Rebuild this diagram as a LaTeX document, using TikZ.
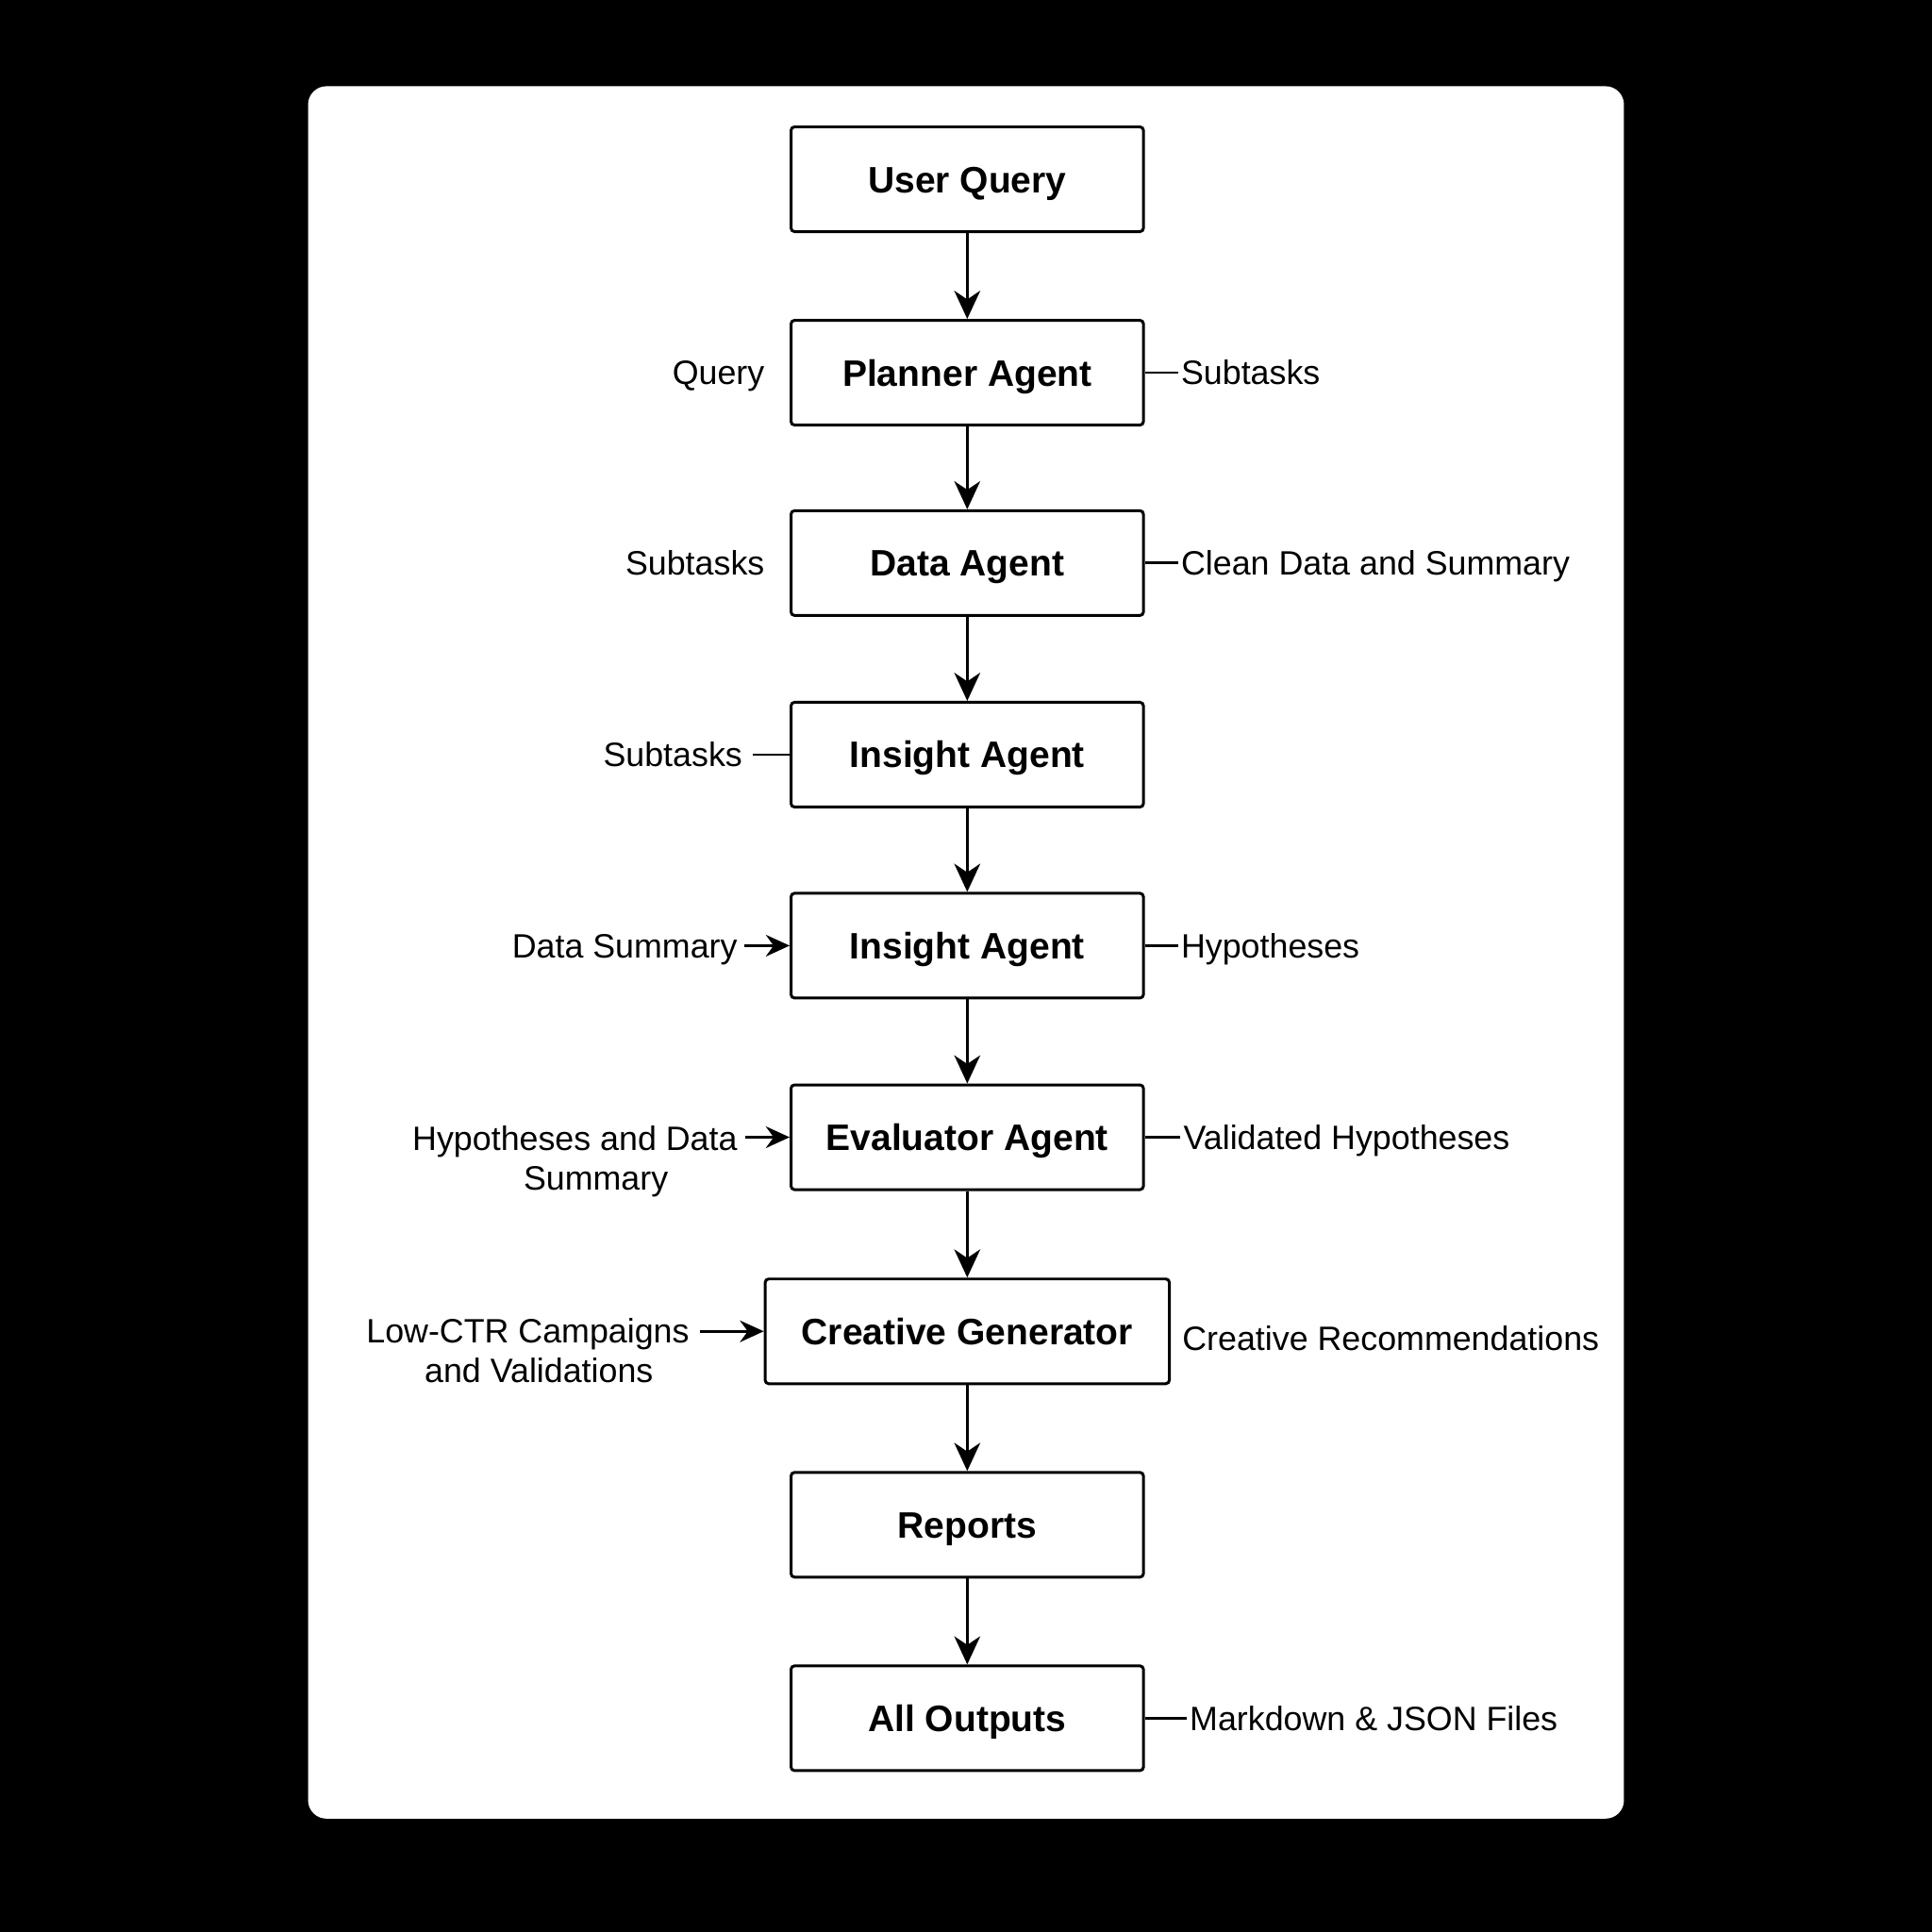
\documentclass[tikz,border=0pt]{standalone}
\usepackage{fontspec}
\setmainfont{Liberation Sans}
\usetikzlibrary{arrows.meta,positioning,calc}

\begin{document}
\begin{tikzpicture}[
    agent/.style={draw, line width=0.65pt, rounded corners=0.8pt, minimum width=2.86cm, minimum height=0.85cm, inner sep=0pt, text height=6.1pt, text depth=0pt, font=\fontsize{8.5}{10}\selectfont\bfseries},
    side/.style={inner sep=0.5pt, text height=5.6pt, text depth=0pt, font=\fontsize{7.8}{9.1}\selectfont},
    multi/.style={inner sep=0.5pt, align=center, font=\fontsize{7.8}{9.1}\selectfont},
    flow/.style={line width=0.6pt, -{Stealth[length=6.5pt, width=6pt, inset=2pt]}},
    feed/.style={line width=0.6pt, -{Stealth[length=5.5pt, width=5pt, inset=1.8pt]}},
    tie/.style={line width=0.6pt}
]

    % Background
    \useasboundingbox (0,0) rectangle (15.68,15.68);
    \fill[black] (0,0) rectangle (15.68,15.68);
    \fill[white, rounded corners=0.15cm] (2.50,0.92) rectangle (13.18,14.98);

    % Agents
    \node[agent] (query) at (7.85,14.225) {User Query};
    \node[agent] (planner) at (7.85,12.655) {Planner Agent};
    \node[agent] (data) at (7.85,11.11) {Data Agent};
    \node[agent] (insightA) at (7.85,9.555) {Insight Agent};
    \node[agent] (insightB) at (7.85,8.005) {Insight Agent};
    \node[agent] (evaluator) at (7.85,6.45) {Evaluator Agent};
    \node[agent, minimum width=3.28cm] (creative) at (7.85,4.875) {Creative Generator};
    \node[agent] (reports) at (7.85,3.305) {Reports};
    \node[agent] (outputs) at (7.85,1.735) {All Outputs};

    % Main flow
    \foreach \a/\b in {query/planner, planner/data, data/insightA, insightA/insightB,
                       insightB/evaluator, evaluator/creative, creative/reports, reports/outputs}
        \draw[flow] (\a) -- (\b);

    % Inputs (left)
    \node[side, left=0.18cm of planner] (planIn) {Query};
    \node[side, left=0.18cm of data] (dataIn) {Subtasks};

    \node[side, left=0.36cm of insightA] (insIn) {Subtasks};
    \draw[tie, shorten <=0.06cm] (insIn) -- (insightA);

    \node[side, left=0.40cm of insightB] (sumIn) {Data Summary};
    \draw[feed, shorten <=0.03cm] (sumIn) -- (insightB);

    \node[multi, anchor=north east] (evalIn) at ($(evaluator.west)+(-0.40cm,3.3pt)$) {Hypotheses and Data\\\hspace*{0.34cm}Summary};
    \draw[feed, shorten <=0.04cm] (evalIn.east |- evaluator.west) -- (evaluator.west);

    \node[multi, anchor=north east] (creaIn) at ($(creative.west)+(-0.58cm,3.6pt)$) {Low-CTR Campaigns\\\hspace*{0.18cm}and Validations};
    \draw[feed, shorten <=0.06cm] (creaIn.east |- creative.west) -- (creative.west);

    % Outputs (right)
    \node[side, right=0.27cm of planner] (planOut) {Subtasks};
    \draw[tie] (planner) -- (planOut);

    \node[side, right=0.27cm of data] (dataOut) {Clean Data and Summary};
    \draw[tie] (data) -- (dataOut);

    \node[side, right=0.27cm of insightB] (insOut) {Hypotheses};
    \draw[tie] (insightB) -- (insOut);

    \node[side, right=0.29cm of evaluator] (evalOut) {Validated Hypotheses};
    \draw[tie] (evaluator) -- (evalOut);

    \node[side, right=0.07cm of creative, yshift=-0.06cm] (creaOut) {Creative Recommendations};

    \node[side, right=0.34cm of outputs] (outOut) {Markdown \& JSON Files};
    \draw[tie] (outputs) -- (outOut);

\end{tikzpicture}
\end{document}
